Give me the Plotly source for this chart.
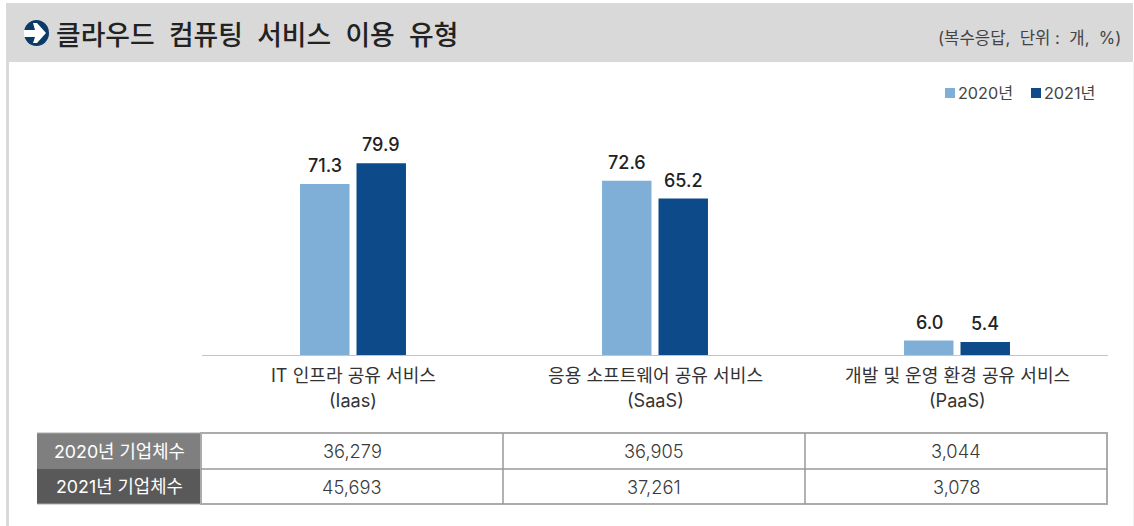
import plotly.graph_objects as go

W, H = 1134, 526
FONT = "Inter, Noto Sans CJK KR"

cat_line1 = ["IT 인프라 공유 서비스", "응용 소프트웨어 공유 서비스", "개발 및 운영 환경 공유 서비스"]
cat_line2 = ["(Iaas)", "(SaaS)", "(PaaS)"]
categories = ["IaaS", "SaaS", "PaaS"]
series_names = ["2020년", "2021년"]
values_2020 = [71.3, 72.6, 6.0]
values_2021 = [79.9, 65.2, 5.4]
colors = ["#7fafd6", "#0c4a8a"]
row_labels = ["2020년 기업체수", "2021년 기업체수"]
row_fills = ["#7f7f7f", "#595959"]
firms_2020 = ["36,279", "36,905", "3,044"]
firms_2021 = ["45,693", "37,261", "3,078"]
title = "클라우드  컴퓨팅  서비스  이용  유형"
note = "(복수응답,  단위 :  개,  %)"


def px(x):
    return x / W


def py(y):
    return 1 - y / H


def rect(x0, y0, x1, y1, fill=None, line=None, width=0):
    return dict(type="rect", xref="paper", yref="paper", x0=px(x0), x1=px(x1), y0=py(y0), y1=py(y1),
                fillcolor=fill or "rgba(0,0,0,0)", line=dict(color=line or "rgba(0,0,0,0)", width=width), layer="below")


def label(x, y, text, size, color, anchor="center", weight=400):
    return dict(xref="paper", yref="paper", x=px(x), y=py(y), text=text, showarrow=False, xanchor=anchor,
                yanchor="middle", font=dict(family=FONT, size=size, color=color, weight=weight))


fig = go.Figure()
for name, vals, col in zip(series_names, [values_2020, values_2021], colors):
    fig.add_bar(x=categories, y=vals, name=name, marker=dict(color=col, line=dict(width=0)), cliponaxis=False)

shapes = [
    rect(6, 3, 1133, 62, "#d9d9d9"),
    rect(6, 62, 9, H, "#d9d9d9"),
    rect(1133, 62, 1134, H, "#eeeeee"),
    # title icon
    dict(type="circle", xref="paper", yref="paper", x0=px(24), x1=px(49), y0=py(46), y1=py(20),
         fillcolor="#0b3a68", line=dict(width=0)),
    dict(type="path", xref="paper", yref="paper", fillcolor="white", line=dict(width=0),
         path="M " + " L ".join(f"{px(a)} {py(b)}" for a, b in [
             (24, 30), (35, 30), (33, 23), (37, 23), (46, 33), (37, 43), (33, 43), (35, 37), (24, 37)]) + " Z"),
]

annotations = [
    label(54, 35, title, 26.8, "#222222", "left", 500),
    label(1123, 38, note, 16.7, "#444444", "right"),
]

# value labels
for vals, shift in zip([values_2020, values_2021], [-28, 28]):
    for cat, v in zip(categories, vals):
        annotations.append(dict(xref="x", yref="y", x=cat, y=v, text=f"{v:.1f}", showarrow=False, xshift=shift,
                                yshift=6, yanchor="bottom", font=dict(family=FONT, size=18, color="#222222", weight=500)))

# category labels
for cat, l1, l2 in zip(categories, cat_line1, cat_line2):
    for text, yy in [(l1, 375), (l2, 400)]:
        annotations.append(dict(xref="x", yref="paper", x=cat, y=py(yy), text=text, showarrow=False, yanchor="middle",
                                font=dict(family=FONT, size=18.1, color="#333333")))

# legend
for name, col, sx in zip(series_names, colors, [945, 1031]):
    shapes.append(rect(sx, 88, sx + 10, 98, col))
    annotations.append(label(sx + 11, 93, name, 16.2, "#444444", "left"))

# table
col_edges = [37, 201, 503, 805, 1107]
row_edges = [433, 469, 504]
rows = [firms_2020, firms_2021]
for r, (lab, fill, cells) in enumerate(zip(row_labels, row_fills, rows)):
    top, bottom = row_edges[r], row_edges[r + 1]
    cy = (top + bottom) / 2
    shapes.append(rect(col_edges[0], top, col_edges[1], bottom, fill))
    annotations.append(label((col_edges[0] + col_edges[1]) / 2, cy, lab, 17.8, "#ffffff"))
    for c, val in enumerate(cells):
        annotations.append(label((col_edges[c + 1] + col_edges[c + 2]) / 2, cy, val, 18.3, "#3a3a3a", weight=300))
shapes.append(rect(col_edges[1], 433, col_edges[4], 504, None, "#ababab", 2))
shapes.append(dict(type="line", xref="paper", yref="paper", x0=px(col_edges[0]), x1=px(col_edges[1]),
                   y0=py(433), y1=py(433), line=dict(color="#ababab", width=1)))
shapes.append(dict(type="line", xref="paper", yref="paper", x0=px(col_edges[0]), x1=px(col_edges[1]),
                   y0=py(504), y1=py(504), line=dict(color="#ababab", width=1)))
shapes.append(dict(type="line", xref="paper", yref="paper", x0=px(col_edges[1]), x1=px(col_edges[4]),
                   y0=py(469), y1=py(469), line=dict(color="#999999", width=1.5)))
for xe in col_edges[2:4]:
    shapes.append(dict(type="line", xref="paper", yref="paper", x0=px(xe), x1=px(xe), y0=py(433), y1=py(504),
                       line=dict(color="#999999", width=1.5)))

fig.update_layout(
    width=W, height=H, autosize=False,
    margin=dict(l=0, r=0, t=0, b=0, pad=0),
    paper_bgcolor="white", plot_bgcolor="white",
    barmode="group", bargap=0.626, bargroupgap=0.124,
    showlegend=False,
    shapes=shapes, annotations=annotations,
    xaxis=dict(domain=[px(202), px(1108)], showline=True, linecolor="#c4c4c4", linewidth=1, ticks="",
               showgrid=False, showticklabels=False),
    yaxis=dict(domain=[py(355), py(115)], range=[0, 100], visible=False, showgrid=False),
    font=dict(family=FONT),
)
fig.write_html("out.html", config=dict(displayModeBar=False),
               post_script="document.body.style.margin='0';document.documentElement.style.overflow='hidden';")
